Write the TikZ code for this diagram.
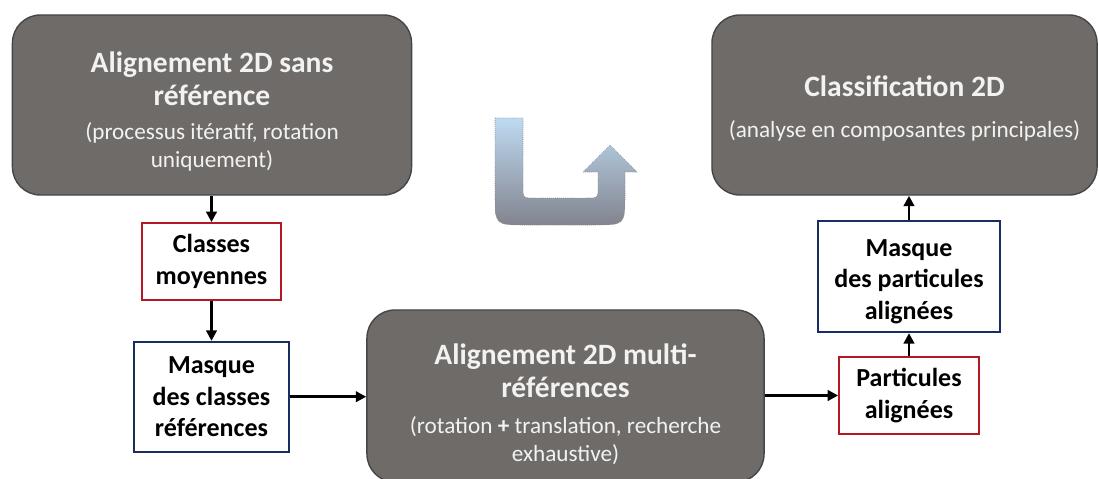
\documentclass[tikz,border=0pt]{standalone}
\usepackage{fontspec}
\setmainfont{Carlito}
\usetikzlibrary{positioning,calc}
\usetikzlibrary{arrows.meta}
\definecolor{BoxGray}{RGB}{111,107,105}
\definecolor{EdgeGray}{RGB}{70,70,70}
\definecolor{TxtGray}{RGB}{242,242,242}
\definecolor{FrameRed}{RGB}{180,25,35}
\definecolor{FrameBlue}{RGB}{25,45,100}
\definecolor{UTop}{RGB}{190,218,242}
\definecolor{UBot}{RGB}{130,132,142}
\tikzset{
  stage/.style={draw=EdgeGray,fill=BoxGray,rounded corners=0.7cm,line width=1pt,
    text=TxtGray,align=center,font=\fontsize{21}{24}\selectfont\bfseries},
  data/.style={draw=FrameRed,fill=white,line width=1.2pt,align=center,
    font=\fontsize{18.5}{22.5}\selectfont\bfseries},
  mask/.style={data,draw=FrameBlue},
}
\tikzset{flow/.style={line width=2pt,-{Triangle[length=2.6mm,width=2.6mm]}}}
\newcommand{\sous}{\fontsize{16.5}{20}\selectfont\mdseries}
\newcommand{\haut}[1]{\rule{0pt}{#1}}

\begin{document}
\begin{tikzpicture}[x=0.025cm,y=-0.025cm,node distance=1cm]
\useasboundingbox (0,0) rectangle (1099,479);
\coordinate (pA) at (212,105);
\coordinate (pC) at (904.5,105);
\coordinate (pB) at (565.5,391);
\coordinate (pM) at (211.5,261.5);
\coordinate (pP) at (909,395.5);
\node[stage,minimum width=9.975cm,minimum height=4.5cm] (algA) at (pA)
  {\haut{24pt}Alignement 2D sans\\référence\\[0pt]\sous (processus itératif, rotation\\[-4pt]\sous uniquement)};
\node[stage,minimum width=9.625cm,minimum height=4.5cm] (cls) at (pC)
  {\haut{20pt}Classification 2D\\[5pt]\sous (analyse en composantes principales)};
\node[stage,minimum width=9.925cm,minimum height=4.3cm] (algB) at ($(pB)+(0,5)$)
  {\haut{26pt}Alignement 2D multi-\\références\\[1pt]\sous (rotation \textbf{+} translation, recherche\\[-4pt]\sous exhaustive)};
\node[data,minimum width=3.475cm,minimum height=1.925cm] (moy) at (pM) {Classes\\moyennes};
\node[mask,minimum width=3.875cm,minimum height=2.75cm,below=1cm of moy] (mclass) {Masque\\des classes\\références};
\node[data,minimum width=3.5cm,minimum height=1.925cm] (part) at (pP) {Particules\\alignées};
\node[mask,minimum width=4.55cm,minimum height=2.775cm,above=0.575cm of part] (mpart) {\haut{19pt}Masque\\des particules\\alignées};
% liens
\draw[flow] (algA.south -| moy.north) -- (moy.north);
\draw[flow] (moy) -- (mclass);
\draw[flow] (mclass.east) -- (mclass.east -| algB.west);
\draw[flow] (algB.east |- part.west) -- (part.west);
\draw[flow] (part) -- (mpart);
\draw[flow] (mpart.north) -- (mpart.north |- cls.south);
% fleche en U
\draw[gray,densely dotted,top color=UTop,bottom color=UBot]
  (495,118) -- (523,118) -- (523,186) .. controls (523,198) .. (535,198)
  -- (586,198) .. controls (598,198) .. (598,186) -- (598,172) -- (583,172)
  -- (610,145) -- (637,172) -- (625,172) -- (625,195) .. controls (625,225) .. (595,225)
  -- (525,225) .. controls (495,225) .. (495,195) -- cycle;
\end{tikzpicture}
\end{document}
